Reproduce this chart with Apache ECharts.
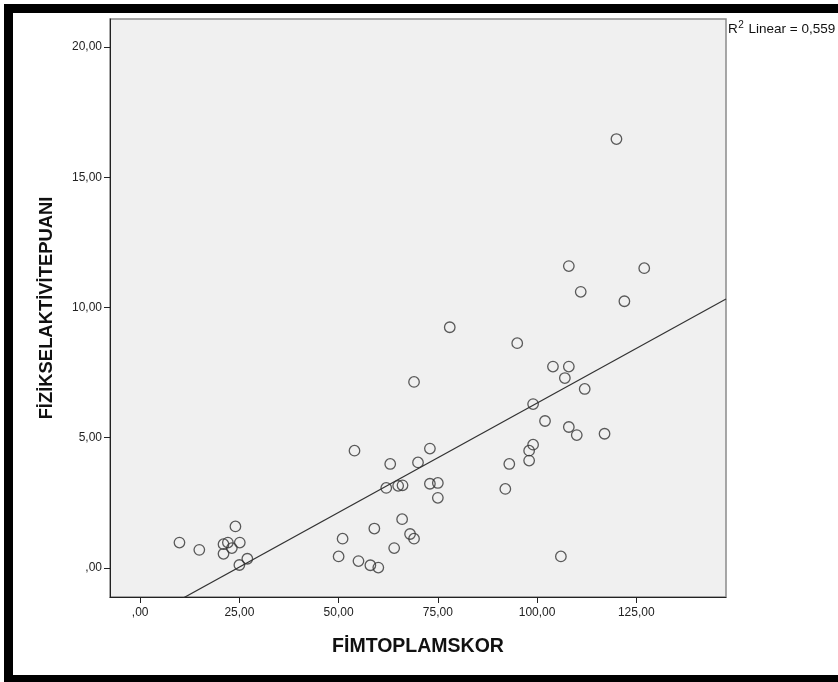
<!DOCTYPE html>
<html>
<head>
<meta charset="utf-8">
<script src="https://cdn.jsdelivr.net/npm/echarts@6/dist/echarts.min.js"></script>
<style>
html,body{margin:0;padding:0;background:#fff;}
#chart{width:838px;height:682px;}
</style>
</head>
<body>
<div id="chart"></div>
<script>
// FİMTOPLAMSKOR (x) values
const fimScores = [9.9,14.9,21.0,22.1,21.0,23.1,24.0,25.1,25.0,27.0,
  50.0,51.0,55.0,58.0,60.0,59.0,54.0,63.0,62.0,65.0,
  66.1,66.0,64.0,68.0,69.0,69.0,70.0,73.0,73.0,75.0,
  75.0,78.0,92.0,93.0,95.0,98.0,98.0,99.0,99.0,102.0,
  104.0,106.0,107.0,108.0,108.0,108.0,110.0,111.0,112.0,117.0,
  120.0,122.0,127.0];
// FİZİKSELAKTİVİTEPUANI (y) values
const activityScores = [0.97,0.69,0.91,0.97,0.54,0.76,1.59,0.97,0.11,0.35,
  0.44,1.12,0.26,0.10,0.01,1.51,4.50,3.99,3.07,3.15,
  3.17,1.87,0.76,1.30,1.12,7.14,4.05,4.58,3.23,3.26,
  2.69,9.24,3.03,3.99,8.63,4.12,4.50,4.73,6.29,5.64,
  7.73,0.44,7.29,7.73,5.41,11.59,5.10,10.60,6.87,5.15,
  16.47,10.24,11.51];
// Linear fit
const fitIntercept = -2.07;
const fitSlope = 0.0840;
const r2Parts = ["R", "2", " Linear = 0,559"];
// axes
const xTicks = [0,25,50,75,100,125];
const xTickLabels = [",00","25,00","50,00","75,00","100,00","125,00"];
const yTicks = [0,5,10,15,20];
const yTickLabels = [",00","5,00","10,00","15,00","20,00"];
const xRange = [-7.6, 147.6];
const yRange = [-1.12, 21.08];
const xTitle = "FİMTOPLAMSKOR";
const yTitle = "FİZİKSELAKTİVİTEPUANI";

const points = fimScores.map((x,i)=>[x, activityScores[i]]);
const fitData = xRange.map(x=>[x, fitIntercept + fitSlope*x]);

const chart = echarts.init(document.getElementById('chart'));
const font = '"Liberation Sans", Arial, sans-serif';
chart.setOption({
  animation:false,
  backgroundColor:'#ffffff',
  grid:{left:110, top:19, width:616, height:578, show:true,
        backgroundColor:'#f0f0f0', borderColor:'#8a8a8a', borderWidth:1.5},
  xAxis:{type:'value', min:xRange[0], max:xRange[1],
    name:xTitle, nameLocation:'middle', nameGap:40,
    nameTextStyle:{fontFamily:font, fontWeight:'bold', fontSize:19.5, color:'#111'},
    axisLine:{show:true, onZero:false, lineStyle:{color:'#222', width:1}},
    axisTick:{show:true, length:6, lineStyle:{color:'#222'}, customValues:xTicks},
    axisLabel:{customValues:xTicks, fontFamily:font, fontSize:12, color:'#222', margin:10,
      formatter:(v)=>xTickLabels[xTicks.indexOf(v)] ?? ''},
    splitLine:{show:false}},
  yAxis:{type:'value', min:yRange[0], max:yRange[1],
    name:yTitle, nameLocation:'middle', nameGap:54, nameRotate:90,
    nameTextStyle:{fontFamily:font, fontWeight:'bold', fontSize:18.4, color:'#111'},
    axisLine:{show:true, onZero:false, lineStyle:{color:'#222', width:1}},
    axisTick:{show:true, length:6, lineStyle:{color:'#222'}, customValues:yTicks},
    axisLabel:{customValues:yTicks, fontFamily:font, fontSize:12, color:'#222', margin:8,
      formatter:(v)=>yTickLabels[yTicks.indexOf(v)] ?? ''},
    splitLine:{show:false}},
  series:[
    {type:'line', data:fitData, symbol:'none', clip:true, silent:true,
     lineStyle:{color:'#333', width:1.2}, z:2},
    {type:'scatter', data:points, symbol:'circle', symbolSize:10.5,
     itemStyle:{color:'rgba(0,0,0,0)', borderColor:'#333', borderWidth:1.3}, z:3}
  ],
  graphic:[
    {type:'text', left:728, top:20, z:50,
     style:{text:'{a|'+r2Parts[0]+'}{s|'+r2Parts[1]+'}{a|'+r2Parts[2]+'}',
       rich:{
         a:{fontFamily:font, fontSize:13.5, fill:'#111', color:'#111', lineHeight:16, verticalAlign:'bottom'},
         s:{fontFamily:font, fontSize:10, fill:'#111', color:'#111', lineHeight:10, verticalAlign:'top', padding:[0,1,0,0.5]}
       }}},
    {type:'rect', shape:{x:4,y:4,width:840,height:9}, style:{fill:'#000'}, z:100},
    {type:'rect', shape:{x:4,y:4,width:9,height:680}, style:{fill:'#000'}, z:100},
    {type:'rect', shape:{x:4,y:675,width:840,height:9}, style:{fill:'#000'}, z:100}
  ]
});
</script>
</body>
</html>
